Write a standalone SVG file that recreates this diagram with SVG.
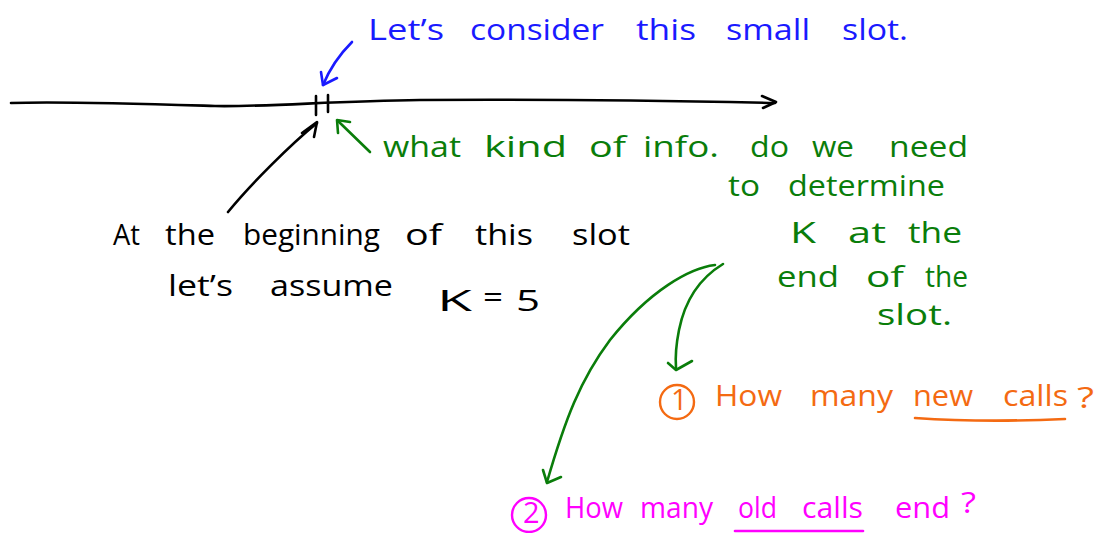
<svg xmlns="http://www.w3.org/2000/svg" width="1101" height="533" viewBox="0 0 1101 533">
<style>
text{font-family:"Open Sans","Liberation Sans",sans-serif;font-size:29px;}
.ln{fill:none;stroke-width:2.6;stroke-linecap:round;stroke-linejoin:round;}
.k{stroke:#000}.b{stroke:#1a1aff}.g{stroke:#0a7d0a}.o{stroke:#f46a12}.m{stroke:#f0f}
.tk{fill:#000}.tb{fill:#1a1aff}.tg{fill:#0a7d0a}.to{fill:#f46a12}.tm{fill:#f0f}
</style>
<rect width="1101" height="533" fill="#fff"/>
<g id="timeline">
<path class="ln k" d="M11,103 C60,101 150,104 215,106 C270,107 330,101 420,100 C550,99 680,101 775,103"/>
<path class="ln k" d="M762,96 L776,102 L763,108"/>
<path class="ln k" d="M316,96 L316,115 M328,95 L328,112"/>
</g>
<g id="blue-note">
<text class="tb" x="368" y="40" textLength="76" lengthAdjust="spacingAndGlyphs">Let’s</text>
<text class="tb" x="470" y="40" textLength="134" lengthAdjust="spacingAndGlyphs">consider</text>
<text class="tb" x="636" y="40" textLength="60" lengthAdjust="spacingAndGlyphs">this</text>
<text class="tb" x="726" y="40" textLength="84" lengthAdjust="spacingAndGlyphs">small</text>
<text class="tb" x="842" y="40" textLength="66" lengthAdjust="spacingAndGlyphs">slot.</text>
</g>
<g id="begin-note">
<text class="tk" x="113" y="245" textLength="27" lengthAdjust="spacingAndGlyphs">At</text>
<text class="tk" x="165" y="245" textLength="50" lengthAdjust="spacingAndGlyphs">the</text>
<text class="tk" x="243" y="245" textLength="137" lengthAdjust="spacingAndGlyphs">beginning</text>
<text class="tk" x="405" y="245" textLength="37" lengthAdjust="spacingAndGlyphs">of</text>
<text class="tk" x="475" y="245" textLength="58" lengthAdjust="spacingAndGlyphs">this</text>
<text class="tk" x="572" y="245" textLength="58" lengthAdjust="spacingAndGlyphs">slot</text>
<text class="tk" x="168" y="296" textLength="65" lengthAdjust="spacingAndGlyphs">let’s</text>
<text class="tk" x="270" y="296" textLength="123" lengthAdjust="spacingAndGlyphs">assume</text>
<text class="tk" x="437" y="311" font-size="42" textLength="35" lengthAdjust="spacingAndGlyphs">K</text>
<text class="tk" x="483" y="307" font-size="32" textLength="20" lengthAdjust="spacingAndGlyphs">=</text>
<text class="tk" x="516" y="311" font-size="42" textLength="24" lengthAdjust="spacingAndGlyphs">5</text>
</g>
<g id="green-note">
<text class="tg" x="383" y="157" textLength="78" lengthAdjust="spacingAndGlyphs">what</text>
<text class="tg" x="484" y="157" textLength="83" lengthAdjust="spacingAndGlyphs">kind</text>
<text class="tg" x="589" y="157" textLength="37" lengthAdjust="spacingAndGlyphs">of</text>
<text class="tg" x="643" y="157" textLength="76" lengthAdjust="spacingAndGlyphs">info.</text>
<text class="tg" x="750" y="157" textLength="39" lengthAdjust="spacingAndGlyphs">do</text>
<text class="tg" x="812" y="157" textLength="42" lengthAdjust="spacingAndGlyphs">we</text>
<text class="tg" x="889" y="157" textLength="79" lengthAdjust="spacingAndGlyphs">need</text>
<text class="tg" x="728" y="196" textLength="32" lengthAdjust="spacingAndGlyphs">to</text>
<text class="tg" x="788" y="196" textLength="157" lengthAdjust="spacingAndGlyphs">determine</text>
<text class="tg" x="790" y="243" textLength="26" lengthAdjust="spacingAndGlyphs">K</text>
<text class="tg" x="848" y="243" textLength="38" lengthAdjust="spacingAndGlyphs">at</text>
<text class="tg" x="908" y="243" textLength="54" lengthAdjust="spacingAndGlyphs">the</text>
<text class="tg" x="777" y="287" textLength="62" lengthAdjust="spacingAndGlyphs">end</text>
<text class="tg" x="866" y="287" textLength="38" lengthAdjust="spacingAndGlyphs">of</text>
<text class="tg" x="925" y="287" textLength="43" lengthAdjust="spacingAndGlyphs">the</text>
<text class="tg" x="877" y="325" textLength="75" lengthAdjust="spacingAndGlyphs">slot.</text>
</g>
<g id="q1">
<circle cx="677" cy="402" r="17" fill="none" stroke="#f46a12" stroke-width="2.4"/>
<text class="to" x="671" y="410" font-size="20">1</text>
<text class="to" x="715" y="406" textLength="67" lengthAdjust="spacingAndGlyphs">How</text>
<text class="to" x="810" y="406" textLength="83" lengthAdjust="spacingAndGlyphs">many</text>
<text class="to" x="913" y="406" textLength="60" lengthAdjust="spacingAndGlyphs">new</text>
<text class="to" x="1003" y="406" textLength="65" lengthAdjust="spacingAndGlyphs">calls</text>
<text class="to" x="1077" y="408" font-size="40" textLength="17" lengthAdjust="spacingAndGlyphs">?</text>
<path class="ln o" d="M915,418 C960,421 1020,421 1065,419"/>
</g>
<g id="q2">
<circle cx="529" cy="515" r="17" fill="none" stroke="#f0f" stroke-width="2.4"/>
<text class="tm" x="523" y="523" font-size="20">2</text>
<text class="tm" x="565" y="518" textLength="58" lengthAdjust="spacingAndGlyphs">How</text>
<text class="tm" x="640" y="518" textLength="73" lengthAdjust="spacingAndGlyphs">many</text>
<text class="tm" x="738" y="518" textLength="39" lengthAdjust="spacingAndGlyphs">old</text>
<text class="tm" x="802" y="518" textLength="61" lengthAdjust="spacingAndGlyphs">calls</text>
<text class="tm" x="895" y="518" textLength="55" lengthAdjust="spacingAndGlyphs">end</text>
<text class="tm" x="961" y="513" font-size="40" textLength="15" lengthAdjust="spacingAndGlyphs">?</text>
<path class="ln m" d="M735,531 L863,531"/>
</g>
<g id="connectors">
<path class="ln b" d="M352,42 C340,54 330,68 323,85"/>
<path class="ln b" d="M321,72 L323,85 L337,78"/>
<path class="ln g" d="M370,152 L338,121"/>
<path class="ln g" d="M338,133 L337,120 L350,122"/>
<path class="ln k" d="M228,212 C250,185 290,145 317,123"/>
<path class="ln k" d="M302,133 L317,122 L314,137"/>
<path class="ln g" d="M715,265 C690,268 650,290 610,340 C580,380 565,420 547,482"/>
<path class="ln g" d="M723,264 C700,278 685,300 679,330 C676,345 675,355 676,368"/>
<path class="ln g" d="M668,363 L676,370 L692,361"/>
<path class="ln g" d="M543,470 L547,483 L561,477"/>
</g>
</svg>
